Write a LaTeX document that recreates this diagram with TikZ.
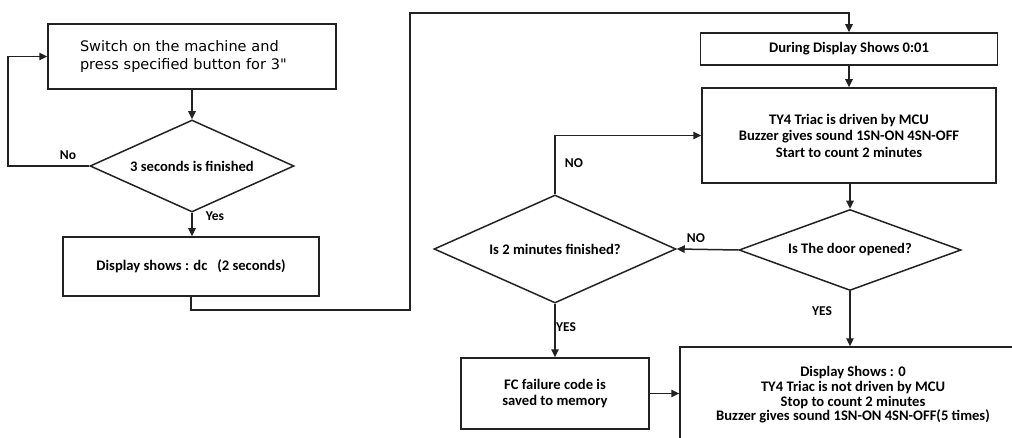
\documentclass[tikz,border=0pt]{standalone}
\usepackage{fontspec}
\setmainfont{Carlito}
\newfontfamily\boxonefont{DejaVu Sans}
\usetikzlibrary{shapes.geometric,arrows.meta}
\begin{document}
\begin{tikzpicture}[x=1pt,y=-1pt,
  line width=1.5pt, draw={rgb,255:red,34;green,34;blue,34},
  arr/.style={-{Triangle[length=8pt,width=7.5pt]}},
  box/.style={draw, rectangle, inner sep=0pt, align=center,
    font=\bfseries\fontsize{14.6}{16.5}\selectfont},
  dia/.style={draw, diamond, inner sep=0pt, align=center,
    font=\bfseries\fontsize{14.6}{16.5}\selectfont},
  lbl/.style={inner sep=0pt, font=\bfseries\fontsize{13.5}{16}\selectfont}]
\useasboundingbox (0,0) rectangle (1012,438);
\fill[white] (0,0) rectangle (1012,438);
\clip (0,0) rectangle (1012,438);

% left column
\node[draw, rectangle, inner ysep=0pt, inner xsep=32pt, text width=224pt,
      minimum height=65pt, align=left,
      font=\boxonefont\fontsize{14.5}{18}\selectfont] (s1) at (192,56.5)
  {Switch on the machine and\\press specified button for 3"};
\node[dia, aspect=2.22, minimum width=204pt, minimum height=92pt] (d1) at (192,166)
  {3 seconds is finished};
\node[box, minimum width=256pt, minimum height=59pt] (s2) at (191,266.5)
  {Display shows : dc\ \ \ (2 seconds)};

% right part
\node[box, minimum width=297pt, minimum height=32pt] (s3) at (849,49)
  {During Display Shows 0:01};
\node[box, minimum width=294pt, minimum height=95pt] (s4) at (849,135.5)
  {TY4 Triac is driven by MCU\\Buzzer gives sound 1SN-ON 4SN-OFF\\Start to count 2 minutes};
\node[dia, aspect=2.74, minimum width=222pt, minimum height=81pt] (d2) at (850,250)
  {Is The door opened?};
\node[dia, aspect=2.24, minimum width=242pt, minimum height=108pt] (d3) at (555,249)
  {Is 2 minutes finished?};
\node[box, minimum width=188pt, minimum height=71pt] (s5) at (555,393.5)
  {FC failure code is\\saved to memory};
\node[box, minimum width=346pt, minimum height=96pt,
      font=\bfseries\fontsize{14.6}{14.7}\selectfont] (s6) at (853,395)
  {Display Shows : 0\\TY4 Triac is not driven by MCU\\Stop to count 2 minutes\\Buzzer gives sound 1SN-ON 4SN-OFF(5 times)};

% connectors
\coordinate (c1) at (8,166);
\coordinate (k1) at (410,310);
\coordinate (k2) at (410,13);

\draw[arr] (s1.south) -- (d1.north);
\draw[arr] (d1.west) -- (c1) |- (s1.west);
\draw[arr] (d1.south) -- (d1.south |- s2.north);
\draw[arr] (s2.south) |- (k1) -- (k2) -| (s3.north);
\draw[arr] (s3.south) -- (s4.north);
\draw[arr] (s4.south -| d2.north) -- (d2.north);
\draw[arr] (d2.west) -- (d3.east);
\draw[arr] (d3.north) |- (s4.west);
\draw[arr] (d3.south) -- (s5.north);
\draw[arr] (d2.south) -- (d2.south |- s6.north);
\draw[arr] (s5.east) -- (s5.east -| s6.west);

% labels
\node[lbl] (lno1) at (68,155) {No};
\node[lbl] (lyes1) at (215,216) {Yes};
\node[lbl] (lno2) at (574,163) {NO};
\node[lbl] (lno3) at (696,238) {NO};
\node[lbl] (lyes2) at (566,327) {YES};
\node[lbl] (lyes3) at (822,311) {YES};
\end{tikzpicture}
\end{document}
